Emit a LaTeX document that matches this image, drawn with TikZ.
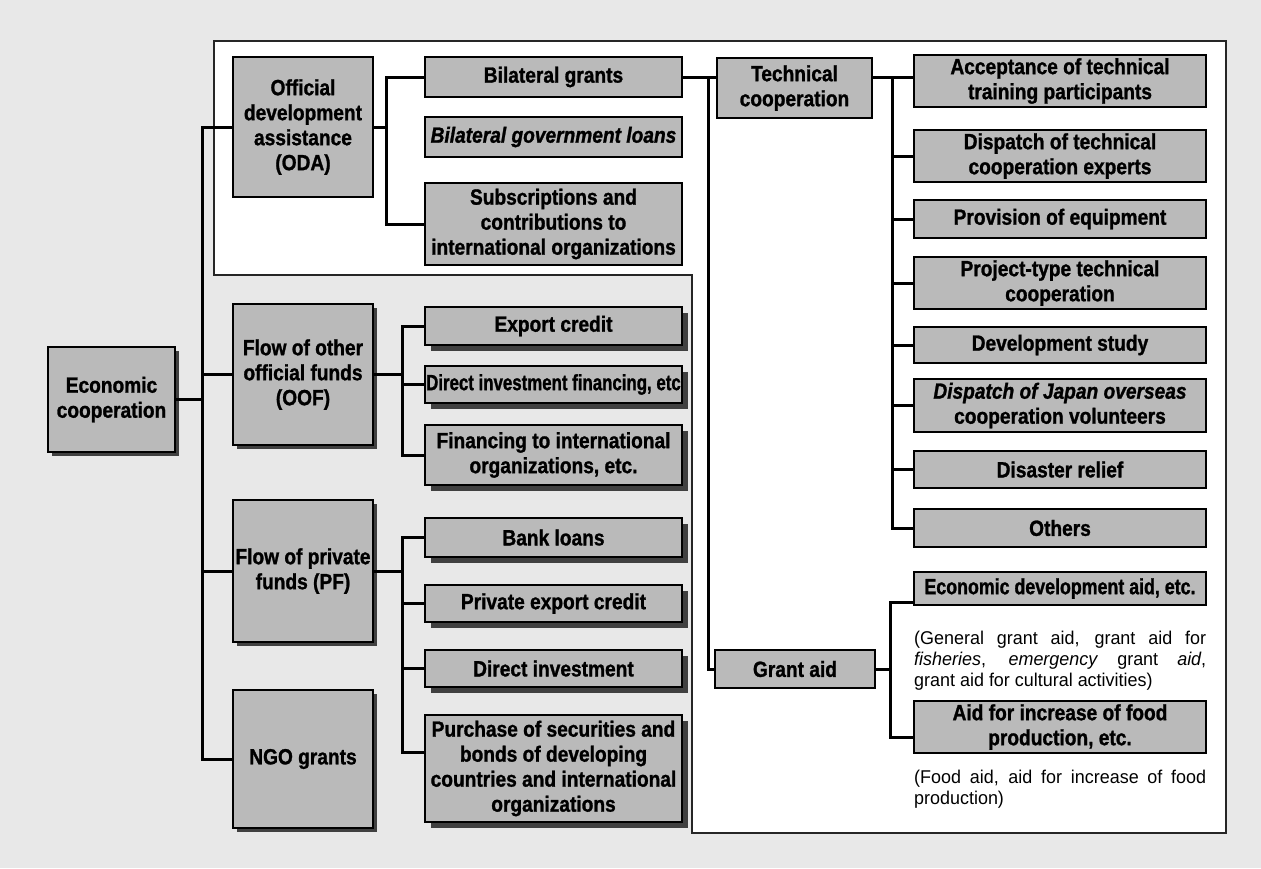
\documentclass[tikz,border=0pt]{standalone}
\usepackage{fontspec}
\setmainfont{Liberation Sans}[FakeStretch=0.87, BoldFeatures={FakeBold=1.2}, BoldItalicFeatures={FakeBold=1.2}]
\newfontfamily\notefont{Liberation Sans}[FakeStretch=0.97]
\usepackage{graphicx}
\usetikzlibrary{calc,shadows}
\tikzset{
  box/.style={draw=black, line width=1.3pt, fill=black!27, inner sep=0pt, align=center,
    font=\bfseries\fontsize{22}{25}\selectfont, text=black},
  shad/.style={drop shadow={shadow xshift=6pt, shadow yshift=-6pt, fill=black!75, opacity=1}},
  shadsm/.style={drop shadow={shadow xshift=4pt, shadow yshift=-4pt, fill=black!75, opacity=1}},
  conn/.style={line width=3pt, draw=black, line cap=rect},
  frame/.style={line width=1.5pt, draw=black!85, fill=white},
  note/.style={font=\notefont\fontsize{18.5}{21}\selectfont, inner sep=0pt, align=left, anchor=north west}
}
\begin{document}
\begin{tikzpicture}[x=1pt,y=-1pt]
\useasboundingbox (0,0) rectangle (1261,868);
\fill[black!9] (0,0) rectangle (1261,868);
\draw[frame] (214,41) -- (1226,41) -- (1226,833) -- (692,833) -- (692,275) -- (214,275) -- cycle;

% left column
\node[box, shadsm, minimum width=127, minimum height=105] (eco) at (111.5,399.5) {Economic\\cooperation};
\node[box, minimum width=140, minimum height=140] (oda) at (303,127) {Official\\development\\assistance\\(ODA)};
\node[box, shadsm, minimum width=140, minimum height=141] (oof) at (303,374.5) {Flow of other\\official funds\\(OOF)};
\node[box, shadsm, minimum width=140, minimum height=142] (pf) at (303,571) {Flow of private\\funds (PF)};
\node[box, shadsm, minimum width=140, minimum height=138] (ngo) at (303,759) {NGO grants};

% middle column
\node[box, minimum width=257, minimum height=40] (bg) at (553.5,77) {Bilateral grants};
\node[box, minimum width=257, minimum height=40] (bgl) at (553.5,137) {\itshape Bilateral government loans};
\node[box, minimum width=257, minimum height=82] (sub) at (553.5,224) {Subscriptions and\\contributions to\\international organizations};
\node[box, shad, minimum width=257, minimum height=38] (exp) at (553.5,326) {Export credit};
\node[box, shad, minimum width=257, minimum height=37] (dif) at (553.5,384.5) {\scalebox{0.88}[1]{Direct investment financing, etc}};
\node[box, shad, minimum width=257, minimum height=60] (fin) at (553.5,455) {Financing to international\\organizations, etc.};
\node[box, shad, minimum width=257, minimum height=39] (bank) at (553.5,537.5) {Bank loans};
\node[box, shad, minimum width=257, minimum height=37] (pec) at (553.5,603.5) {Private export credit};
\node[box, shad, minimum width=257, minimum height=37] (dinv) at (553.5,668.5) {Direct investment};
\node[box, shad, minimum width=257, minimum height=107] (pur) at (553.5,768.5) {Purchase of securities and\\bonds of developing\\countries and international\\organizations};

% technical cooperation / grant aid
\node[box, minimum width=155, minimum height=60] (tech) at (794.5,88) {Technical\\cooperation};
\node[box, minimum width=160, minimum height=38] (grant) at (795,669) {Grant aid};

% right column
\node[box, minimum width=292, minimum height=52] (acc) at (1060,81) {Acceptance of technical\\training participants};
\node[box, minimum width=292, minimum height=52] (dte) at (1060,156) {Dispatch of technical\\cooperation experts};
\node[box, minimum width=292, minimum height=38] (prov) at (1060,219) {Provision of equipment};
\node[box, minimum width=292, minimum height=52] (proj) at (1060,283) {Project-type technical\\cooperation};
\node[box, minimum width=292, minimum height=36] (dev) at (1060,345) {Development study};
\node[box, minimum width=292, minimum height=53] (djo) at (1060,405.5) {{\itshape Dispatch of Japan overseas}\\cooperation volunteers};
\node[box, minimum width=292, minimum height=37] (dis) at (1060,469.5) {Disaster relief};
\node[box, minimum width=292, minimum height=38] (oth) at (1060,528) {Others};
\node[box, minimum width=292, minimum height=33] (edev) at (1060,588.5) {\scalebox{0.93}[1]{Economic development aid, etc.}};
\node[box, minimum width=292, minimum height=52] (food) at (1060,727) {Aid for increase of food\\production, etc.};

\node[note] (n1) at (914,631) {\makebox[292pt][s]{(General grant aid, grant aid for}\\\makebox[292pt][s]{\textit{fisheries}, \textit{emergency} grant \textit{aid},}\\grant aid for cultural activities)};
\node[note] (n2) at (914,770) {\makebox[292pt][s]{(Food aid, aid for increase of food}\\production)};

% main trunk
\coordinate (t) at (202,0);
\draw[conn] (t |- oda.west) -- (t |- ngo.west);
\foreach \n in {oda,oof,pf,ngo} \draw[conn] (t |- \n.west) -- (\n.west);
\draw[conn] (eco.east) -- (t |- eco.east);

% ODA group
\coordinate (a) at (386,0);
\draw[conn] (oda.east) -- (a |- oda.east);
\draw[conn] (a |- bg.west) -- (a |- sub.west);
\foreach \n in {bg,sub} \draw[conn] (a |- \n.west) -- (\n.west);

% OOF group
\coordinate (b) at (402,0);
\draw[conn] (oof.east) -- (b |- oof.east);
\draw[conn] (b |- exp.west) -- (b |- fin.west);
\foreach \n in {exp,dif,fin} \draw[conn] (b |- \n.west) -- (\n.west);

% PF group
\coordinate (pu) at ($(pur.west)+(0,-16)$);
\draw[conn] (pf.east) -- (b |- pf.east);
\draw[conn] (b |- bank.west) -- (b |- pu);
\foreach \n in {bank,pec,dinv} \draw[conn] (b |- \n.west) -- (\n.west);
\draw[conn] (b |- pu) -- (pu);

% bilateral grants -> technical cooperation / grant aid
\coordinate (c) at (708,0);
\draw[conn] (bg.east) -- (tech.west |- bg.east);
\draw[conn] (c |- bg.east) -- (c |- grant.west) -- (grant.west);

% technical cooperation group
\coordinate (d) at (892,0);
\draw[conn] (tech.east |- bg.east) -- (acc.west |- bg.east);
\draw[conn] (d |- bg.east) -- (d |- oth.west);
\foreach \n in {dte,prov,proj,dev,djo,dis,oth} \draw[conn] (d |- \n.west) -- (\n.west);

% grant aid group
\coordinate (e) at (890,0);
\coordinate (g1) at ($(edev.south west)+(0,-3)$);
\coordinate (g2) at ($(food.west)+(0,10)$);
\draw[conn] (grant.east) -- (e |- grant.east);
\draw[conn] (g1) -- (e |- g1) -- (e |- g2) -- (g2);
\end{tikzpicture}
\end{document}
